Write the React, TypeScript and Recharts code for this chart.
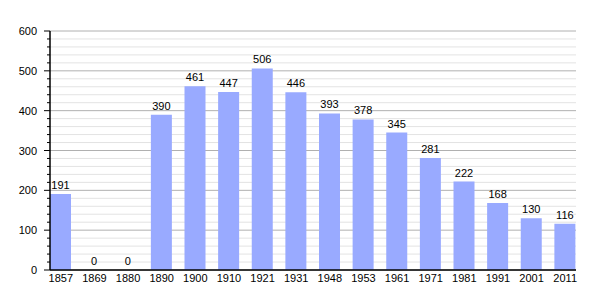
import React from "react";
import { BarChart, Bar, XAxis, YAxis, CartesianGrid, LabelList } from "recharts";

const years = ["1857", "1869", "1880", "1890", "1900", "1910", "1921", "1931", "1948", "1953", "1961", "1971", "1981", "1991", "2001", "2011"];
const population = [191, 0, 0, 390, 461, 447, 506, 446, 393, 378, 345, 281, 222, 168, 130, 116];
const majorTicks = [0, 100, 200, 300, 400, 500, 600];
const minorTicks = [20, 40, 60, 80, 120, 140, 160, 180, 220, 240, 260, 280, 320, 340, 360, 380, 420, 440, 460, 480, 520, 540, 560, 580];
const allTicks = [...majorTicks, ...minorTicks].sort((a, b) => a - b);

const data = years.map((y, i) => ({ year: y, value: population[i] }));

const FONT = "'Liberation Sans', Arial, sans-serif";

const YTick = (props: any) => {
  const { x, y, payload } = props;
  const major = payload.value % 100 === 0;
  return (
    <g>
      <line x1={x - (major ? 6 : 3)} x2={x} y1={y} y2={y} stroke="#000" strokeWidth={1} />
      {major && (
        <text x={x - 13} y={y} dy={4} textAnchor="end" fontSize={11} fill="#000" fontFamily={FONT}>
          {payload.value}
        </text>
      )}
    </g>
  );
};

const GridLine = (p: any) => {
  const v = allTicks[p.index];
  const major = v !== undefined && v % 100 === 0;
  return (
    <line
      key={p.key}
      x1={p.x1}
      x2={p.x2}
      y1={p.y1}
      y2={p.y2}
      stroke={major ? "#b0b0b0" : "#e3e3e3"}
      strokeWidth={1}
    />
  );
};

export default function App() {
  return (
    <div style={{ width: 597, height: 292 }}>
      <BarChart width={597} height={292} data={data} margin={{ top: 23, right: 29, bottom: 0, left: 0 }}>
        <CartesianGrid vertical={false} horizontal={GridLine} />
        <XAxis
          dataKey="year"
          height={30}
          padding={{ left: -6, right: -6 }}
          tickLine={false}
          tickSize={0}
          tickMargin={4}
          axisLine={{ stroke: "#000", strokeWidth: 1.5 }}
          tick={{ fontSize: 11, fill: "#000", fontFamily: FONT }}
          interval={0}
        />
        <YAxis
          width={42}
          domain={[0, 600]}
          ticks={allTicks}
          interval={0}
          tickLine={false}
          tickSize={0}
          tickMargin={0}
          axisLine={{ stroke: "#000", strokeWidth: 1.5 }}
          tick={<YTick />}
        />
        <Bar dataKey="value" fill="#99aaff" barSize={21} minPointSize={0.01} isAnimationActive={false}>
          <LabelList dataKey="value" position="top" offset={5} fontSize={11} fill="#000" fontFamily={FONT} />
        </Bar>
      </BarChart>
    </div>
  );
}
